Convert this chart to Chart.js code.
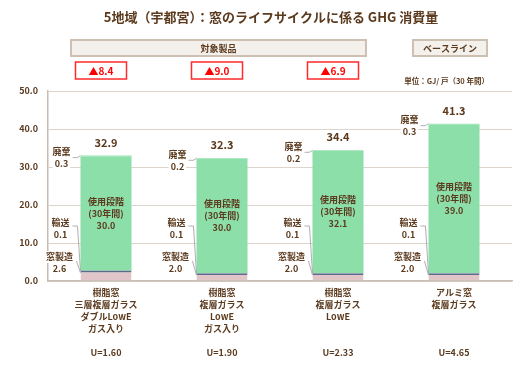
<!DOCTYPE html>
<html>
<head>
<meta charset="utf-8">
<script src="https://cdn.jsdelivr.net/npm/chart.js@4"></script>
<style>
  body { margin: 0; background: #fff; }
</style>
</head>
<body>
<canvas id="ghgChart" width="525" height="370"></canvas>
<script>
// data
const frameTypes = ['樹脂窓', '樹脂窓', '樹脂窓', 'アルミ窓'];
const glassTypes = [
    ['三層複層ガラス', 'ダブルLowE', 'ガス入り'],
    ['複層ガラス', 'LowE', 'ガス入り'],
    ['複層ガラス', 'LowE'],
    ['複層ガラス']
];
const uValues = [1.60, 1.90, 2.33, 4.65];

const manufacture = [2.6, 2.0, 2.0, 2.0];   // 窓製造
const transport = [0.1, 0.1, 0.1, 0.1];     // 輸送
const usePhase = [30.0, 30.0, 32.1, 39.0];  // 使用段階（30年間）
const disposal = [0.3, 0.2, 0.2, 0.3];      // 廃棄
const totals = [32.9, 32.3, 34.4, 41.3];
const reductions = [8.4, 9.0, 6.9];          // vs baseline

const yTicks = [0, 10, 20, 30, 40, 50];

const TEXT = '#5b3a1e';
const JP = '"Noto Sans CJK JP", "Noto Sans", sans-serif';

const labels = frameTypes.map((f, i) => {
    const lines = [f, ...glassTypes[i]];
    while (lines.length < 5) lines.push('');
    lines.push('U=' + uValues[i].toFixed(2));
    return lines;
});

function textWithBg(c, str, x, y) {
    const w = c.measureText(str).width;
    c.fillStyle = '#fff';
    c.fillRect(x - w / 2 - 2, y - 6, w + 4, 12);
    c.fillStyle = TEXT;
    c.fillText(str, x, y);
}

function line(c, pts) {
    c.beginPath();
    c.moveTo(pts[0][0], pts[0][1]);
    for (let k = 1; k < pts.length; k++) c.lineTo(pts[k][0], pts[k][1]);
    c.stroke();
}

const annotations = {
    id: 'annotations',
    afterDatasetsDraw(chart) {
        const c = chart.ctx;
        const y = chart.scales.y;
        const bottom = chart.chartArea.bottom;
        const metaUse = chart.getDatasetMeta(2);
        const metaTop = chart.getDatasetMeta(3);
        c.save();
        c.textAlign = 'center';
        c.textBaseline = 'middle';

        metaTop.data.forEach((bar, i) => {
            const left = bar.x - bar.width / 2;
            const topY = bar.y;

            // total above bar
            c.font = 'bold 11px ' + JP;
            c.fillStyle = TEXT;
            c.fillText(totals[i].toFixed(1), bar.x, topY - 13);

            // use phase text inside green segment
            const u = metaUse.data[i];
            const midY = (u.y + u.base) / 2;
            c.font = 'bold 9px ' + JP;
            c.fillText('使用段階', bar.x, midY - 12);
            c.fillText('(30年間)', bar.x, midY);
            c.fillText(usePhase[i].toFixed(1), bar.x, midY + 12);

            // leader lines
            c.strokeStyle = '#9a9a9a';
            c.lineWidth = 0.8;
            const dCx = left - 19;
            line(c, [[left - 8, topY + 2], [left - 3, topY + 2], [left, topY]]);
            const tCx = left - 20, tY = bottom - 58;
            const tBar = y.getPixelForValue(manufacture[i] + transport[i] / 2);
            line(c, [[tCx + 12, tY + 3], [left - 3, tY + 3], [left, tBar]]);
            const mCx = left - 21, mY = bottom - 24;
            line(c, [[mCx + 17, mY + 4], [left, tBar + 2]]);

            // side labels
            c.font = 'bold 9px ' + JP;
            textWithBg(c, '廃棄', dCx, topY - 4);
            textWithBg(c, disposal[i].toFixed(1), dCx, topY + 8);
            textWithBg(c, '輸送', tCx, tY);
            textWithBg(c, transport[i].toFixed(1), tCx, tY + 12);
            textWithBg(c, '窓製造', mCx, mY);
            textWithBg(c, manufacture[i].toFixed(1), mCx, mY + 12);
        });

        // reduction boxes over the target products
        c.font = 'bold 10px ' + JP;
        reductions.forEach((r, i) => {
            const bx = metaTop.data[i].x - 5;
            c.fillStyle = '#fff';
            c.fillRect(bx - 25.5, 62, 51, 17);
            c.strokeStyle = '#ff2a2a';
            c.lineWidth = 1.5;
            c.strokeRect(bx - 25.5, 62, 51, 17);
            c.fillStyle = '#ff0000';
            c.fillText('▲' + r.toFixed(1), bx, 71);
        });

        // header boxes
        c.font = 'bold 9px ' + JP;
        [['対象製品', 71, 366], ['ベースライン', 413, 487]].forEach(([t, x1, x2]) => {
            c.fillStyle = '#f4f1ec';
            c.fillRect(x1, 40, x2 - x1, 16);
            c.strokeStyle = '#cdbfb2';
            c.lineWidth = 2;
            c.strokeRect(x1, 40, x2 - x1, 16);
            c.fillStyle = TEXT;
            c.fillText(t, (x1 + x2) / 2, 48.5);
        });

        // title
        c.font = 'bold 13px ' + JP;
        c.fillStyle = TEXT;
        c.fillText('5地域（宇都宮）：窓のライフサイクルに係る GHG 消費量', 271, 17);

        // unit
        c.font = 'bold 7.5px ' + JP;
        c.textAlign = 'right';
        c.fillText('単位：GJ/ 戸（30 年間）', 489, 81);
        c.restore();
    }
};

const common = { stack: 'a', barPercentage: 0.88, categoryPercentage: 0.5, borderWidth: 0 };

new Chart(document.getElementById('ghgChart').getContext('2d'), {
    type: 'bar',
    data: {
        labels: labels,
        datasets: [
            { ...common, label: '窓製造', data: manufacture, backgroundColor: '#e0c5c9',
              borderColor: '#5d6a8c', borderWidth: { top: 1.5, left: 0, right: 0, bottom: 0 } },
            { ...common, label: '輸送', data: transport, backgroundColor: '#5d6a8c' },
            { ...common, label: '使用段階', data: usePhase, backgroundColor: '#8ddfaa' },
            { ...common, label: '廃棄', data: disposal, backgroundColor: '#93e1af' }
        ]
    },
    options: {
        responsive: false,
        devicePixelRatio: 1,
        animation: false,
        layout: { padding: { top: 91, right: 13, left: 0, bottom: 0 } },
        plugins: {
            legend: { display: false },
            tooltip: { enabled: false }
        },
        scales: {
            x: {
                stacked: true,
                afterFit: s => { s.height = 89; },
                grid: { display: false, drawTicks: false },
                border: { color: '#c9bcb0', width: 1.5 },
                ticks: {
                    color: TEXT,
                    padding: 6,
                    maxRotation: 0,
                    autoSkip: false,
                    font: { family: JP, size: 9, weight: 'bold', lineHeight: 1.33 }
                }
            },
            y: {
                stacked: true,
                min: 0,
                max: 50,
                afterFit: s => { s.width = 48; },
                afterBuildTicks: s => { s.ticks = yTicks.map(v => ({ value: v })); },
                grid: { color: '#ddd5cc', lineWidth: 1, drawTicks: false },
                border: { color: '#c9bcb0', width: 1.5 },
                ticks: {
                    color: TEXT,
                    padding: 10,
                    font: { family: JP, size: 9, weight: 'bold' },
                    callback: v => Number(v).toFixed(1)
                }
            }
        }
    },
    plugins: [annotations]
});
</script>
</body>
</html>
